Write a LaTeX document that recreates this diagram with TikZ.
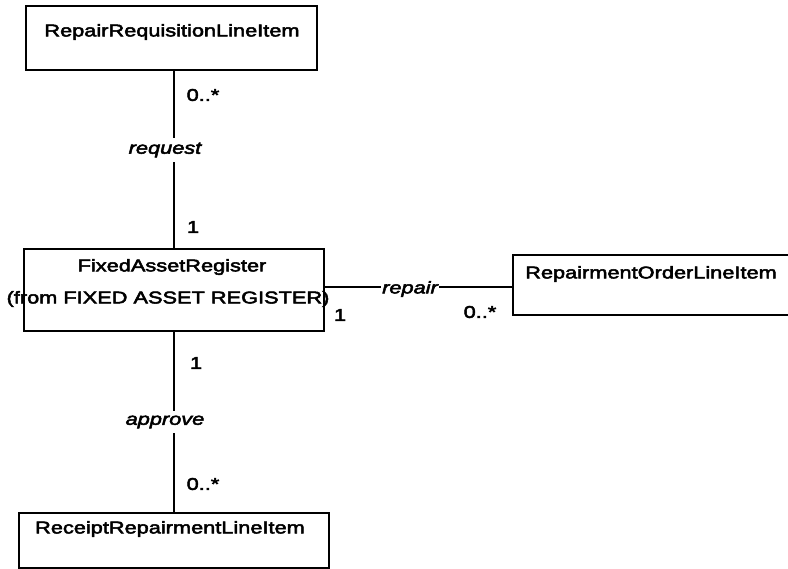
\documentclass[tikz,border=0pt]{standalone}
\usepackage{fontspec}
\setmainfont{Liberation Sans}[FakeStretch=1.28, FakeBold=3]
\begin{document}
\begin{tikzpicture}[x=1pt,y=-1pt,
  classbox/.style={draw, line width=2pt, inner sep=0pt, anchor=north west},
  cname/.style={font=\fontsize{17}{20}\selectfont, inner sep=0pt},
  mult/.style={font=\fontsize{17}{20}\selectfont, inner sep=0pt},
  assoc/.style={font=\fontsize{17}{20}\selectfont\itshape, fill=white, inner xsep=1.5pt, inner ysep=5pt},
  conn/.style={line width=1.2pt}]
\useasboundingbox (0,0) rectangle (788,569);
\clip (0,0) rectangle (788,569);
% class boxes
\node[classbox, minimum width=291pt, minimum height=64pt] (rr) at (25,5) {};
\node[classbox, minimum width=300pt, minimum height=82pt] (fa) at (23,248) {};
\node[classbox, minimum width=300pt, minimum height=60pt] (ro) at (512,254) {};
\node[classbox, minimum width=310pt, minimum height=55pt] (ri) at (18,512) {};
% connectors
\coordinate (rpy) at (0,287);
\draw[conn] (fa.north) -- (fa.north |- rr.south);
\draw[conn] (fa.south) -- (ri.north);
\draw[conn] (fa.east |- rpy) -- (ro.west |- rpy);
% class names
\node[cname] (rrn) at (172,32) {RepairRequisitionLineItem};
\node[cname] (fan) at (172,267) {FixedAssetRegister};
\node[cname] (fas) at (168,299) {(from FIXED ASSET REGISTER)};
\node[cname] (ron) at (651,274) {RepairmentOrderLineItem};
\node[cname] (rin) at (170,529) {ReceiptRepairmentLineItem};
% association names
\node[assoc] (req) at (165,150) {request};
\node[assoc] (app) at (165,422) {approve};
\node[assoc, inner ysep=1pt] (rep) at (410,289) {repair};
% multiplicities
\node[mult] (m1) at (203,95) {0..*};
\node[mult] (m2) at (193,227) {1};
\node[mult] (m3) at (196,363) {1};
\node[mult] (m4) at (203,484) {0..*};
\node[mult] (m5) at (340,315) {1};
\node[mult] (m6) at (480,312) {0..*};
\end{tikzpicture}
\end{document}
